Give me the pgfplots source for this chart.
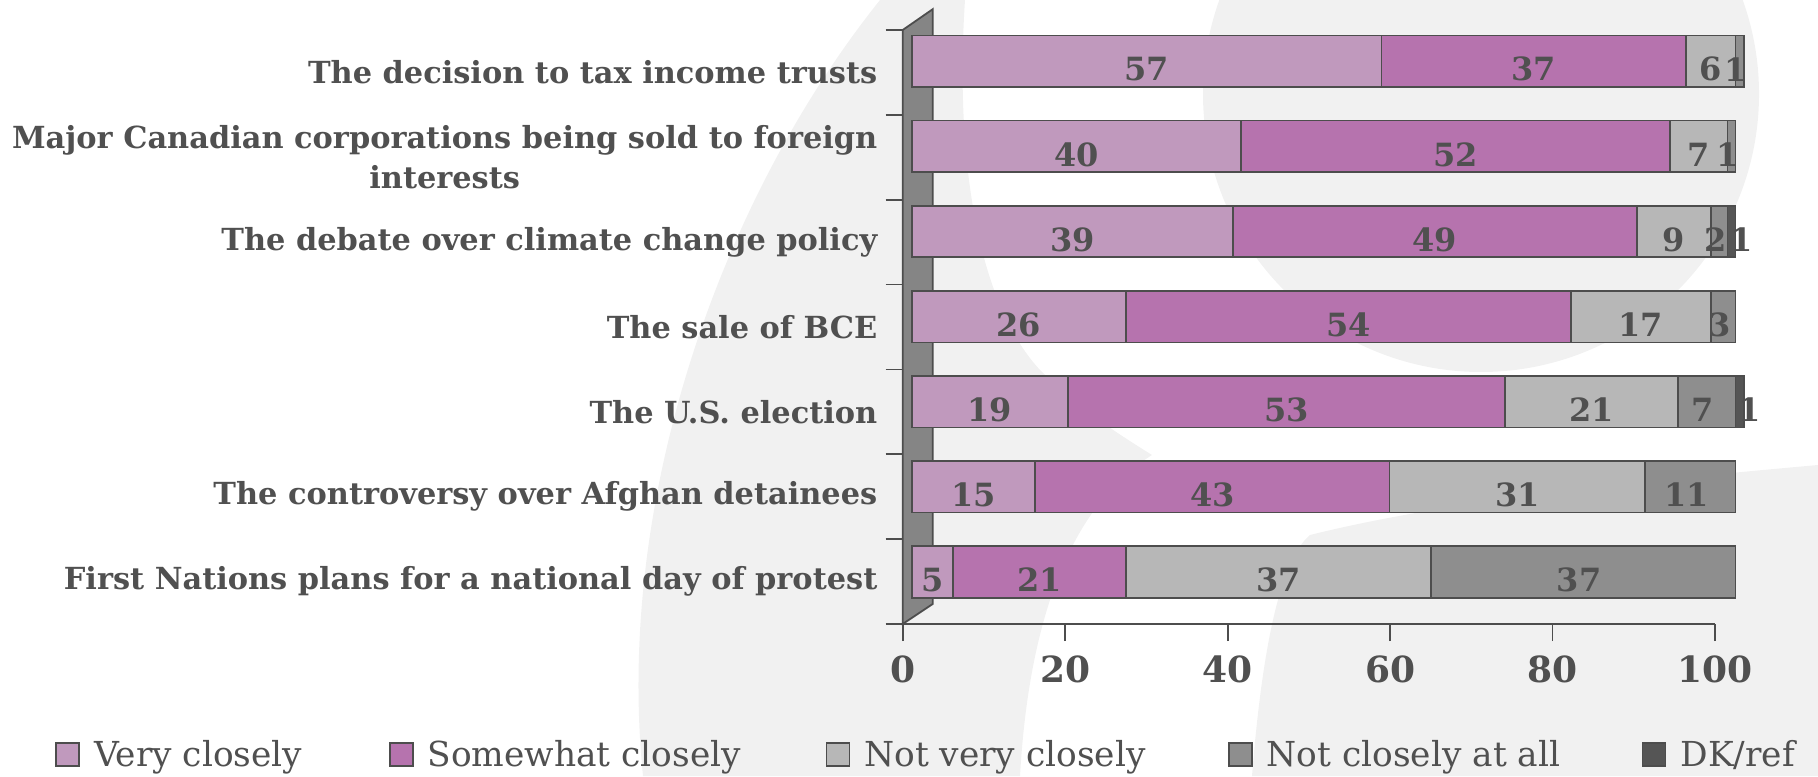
\documentclass[border=0pt]{standalone}
\usepackage{pgfplots}
\pgfplotsset{compat=1.18}
\usepackage{pgfplotstable}
\usepackage{fontspec}
\setmainfont{DejaVu Serif}
\definecolor{txt}{HTML}{505050}
\definecolor{linec}{HTML}{4D4D4D}
\definecolor{wallc}{HTML}{858585}
\definecolor{bgc}{HTML}{F1F1F1}
\definecolor{vc}{HTML}{C099BD}
\definecolor{sc}{HTML}{B673AE}
\definecolor{nv}{HTML}{B7B7B7}
\definecolor{nc}{HTML}{8E8E8E}
\definecolor{dk}{HTML}{555555}

\pgfplotstableread{
y a b c d e
6 57 37 6 1 0
5 40 52 7 1 0
4 39 49 9 2 1
3 26 54 17 3 0
2 19 53 21 7 1
1 15 43 31 11 0
0 5 21 37 37 0
}\datatable
\pgfplotstablecreatecol[create col/expr={\thisrow{a}/2}]{ma}\datatable
\pgfplotstablecreatecol[create col/expr={\thisrow{a}+\thisrow{b}/2}]{mb}\datatable
\pgfplotstablecreatecol[create col/expr={\thisrow{a}+\thisrow{b}+\thisrow{c}/2}]{mc}\datatable
\pgfplotstablecreatecol[create col/expr={\thisrow{a}+\thisrow{b}+\thisrow{c}+\thisrow{d}/2}]{md}\datatable
\pgfplotstablecreatecol[create col/expr={\thisrow{a}+\thisrow{b}+\thisrow{c}+\thisrow{d}+\thisrow{e}/2}]{me}\datatable

\pgfplotsset{
  lbl/.style={draw=none, mark=none, only marks, point meta=explicit,
    nodes near coords={\pgfmathfloatifflags{\pgfplotspointmeta}{0}{}{\pgfmathprintnumber{\pgfplotspointmeta}}},
    every node near coord/.append style={anchor=center, yshift=-4pt, inner sep=0pt,
      font=\bfseries\fontsize{16}{16}\selectfont, text=txt}},
  barst/.style={draw=linec, line width=0.8pt, fill=#1},
}

\begin{document}
\begin{tikzpicture}
\path[use as bounding box] (0,0) rectangle (909pt,388pt);
% watermark background (in full-pixel coordinates)
\begin{scope}[x=0.5pt, y=-0.5pt, yshift=388pt]
\fill[bgc] (880,0) -- (965,0) .. controls (955,150) and (975,300) .. (1040,370)
  .. controls (1080,410) and (1120,435) .. (1152,455)
  .. controls (1080,500) and (1030,600) .. (1020,776)
  -- (643,776) .. controls (615,500) and (720,200) .. (880,0) -- cycle;
\fill[bgc] (1481,94) circle[radius=278];
\fill[bgc] (1252,776) .. controls (1262,650) and (1280,560) .. (1310,535)
  .. controls (1450,500) and (1650,480) .. (1818,465) -- (1818,776) -- cycle;
\end{scope}
% frame axis
\begin{axis}[
  at={(451.35pt,76pt)}, anchor=south west, scale only axis,
  width=406.15pt, height=297pt,
  xmin=0, xmax=100, ymin=0, ymax=7, clip=false,
  axis x line*=bottom, axis y line*=left,
  axis line style={draw=linec, line width=0.9pt, -},
  tick style={draw=linec, line width=0.9pt},
  tick align=outside, major tick length=8.5pt,
  xtick={0,20,40,60,80,100},
  ytick={0,1,2,3,4,5,6,7}, yticklabels={},
  /pgf/number format/assume math mode=true,
  xticklabel style={font=\bfseries\fontsize{18}{18}\selectfont, text=txt, yshift=-4pt},
  extra y ticks={0.5,1.5,2.5,3.5,4.5,5.5,6.5},
  extra y tick labels={First Nations plans for a national day of protest,
    The controversy over Afghan detainees,
    The U.S. election,
    The sale of BCE,
    The debate over climate change policy,
    {Major Canadian corporations being sold to foreign\\interests},
    The decision to tax income trusts},
  extra y tick style={major tick length=0pt,
    yticklabel style={font=\bfseries\fontsize{15.2}{19.7}\selectfont, text=txt,
      align=center, inner sep=0pt, xshift=-12.5pt}},
]
\fill[wallc, draw=linec, line width=0.9pt] (axis cs:0,0) -- (axis cs:0,7)
   -- ([shift={(15pt,10.4pt)}]axis cs:0,7) -- ([shift={(15pt,10pt)}]axis cs:0,0) -- cycle;
\end{axis}
% bars axis
\begin{axis}[
  at={(455.85pt,59.43pt)}, anchor=south west, scale only axis,
  width=411.95pt, height=340.5pt,
  xmin=0, xmax=100, ymin=-1, ymax=7, clip=false,
  hide axis, xbar stacked, bar width=0.605,
  legend columns=5,
  legend style={at={(-1.0398,-0.14297)}, anchor=west, draw=none, fill=none,
    inner sep=0pt, font=\fontsize{17.2}{17.2}\selectfont, text=txt,
    /tikz/every odd column/.append style={column sep=7pt},
    nodes={inner sep=0pt}},
  legend image code/.code={\draw[#1, draw=linec, line width=0.8pt] (0pt,-5.75pt) rectangle (11.5pt,5.75pt);},
]
\addplot[barst=vc] table[x=a,y=y] {\datatable};
\addlegendentry{\makebox[147.5pt][l]{Very closely}}
\addplot[barst=sc] table[x=b,y=y] {\datatable};
\addlegendentry{\makebox[199pt][l]{Somewhat closely}}
\addplot[barst=nv] table[x=c,y=y] {\datatable};
\addlegendentry{\makebox[182pt][l]{Not very closely}}
\addplot[barst=nc] table[x=d,y=y] {\datatable};
\addlegendentry{\makebox[187.5pt][l]{Not closely at all}}
\addplot[barst=dk] table[x=e,y=y] {\datatable};
\addlegendentry{DK/ref}
\end{axis}
% labels axis
\begin{axis}[
  at={(455.85pt,59.43pt)}, anchor=south west, scale only axis,
  width=411.95pt, height=340.5pt,
  xmin=0, xmax=100, ymin=-1, ymax=7, clip=false, hide axis,
  /pgf/number format/assume math mode=true,
]
\addplot[lbl] table[x=ma,y=y,meta=a] {\datatable};
\addplot[lbl] table[x=mb,y=y,meta=b] {\datatable};
\addplot[lbl] table[x=mc,y=y,meta=c] {\datatable};
\addplot[lbl, every node near coord/.append style={xshift=-2pt}] table[x=md,y=y,meta=d] {\datatable};
\addplot[lbl, every node near coord/.append style={xshift=5pt}] table[x=me,y=y,meta=e] {\datatable};
\end{axis}
\end{tikzpicture}
\end{document}
